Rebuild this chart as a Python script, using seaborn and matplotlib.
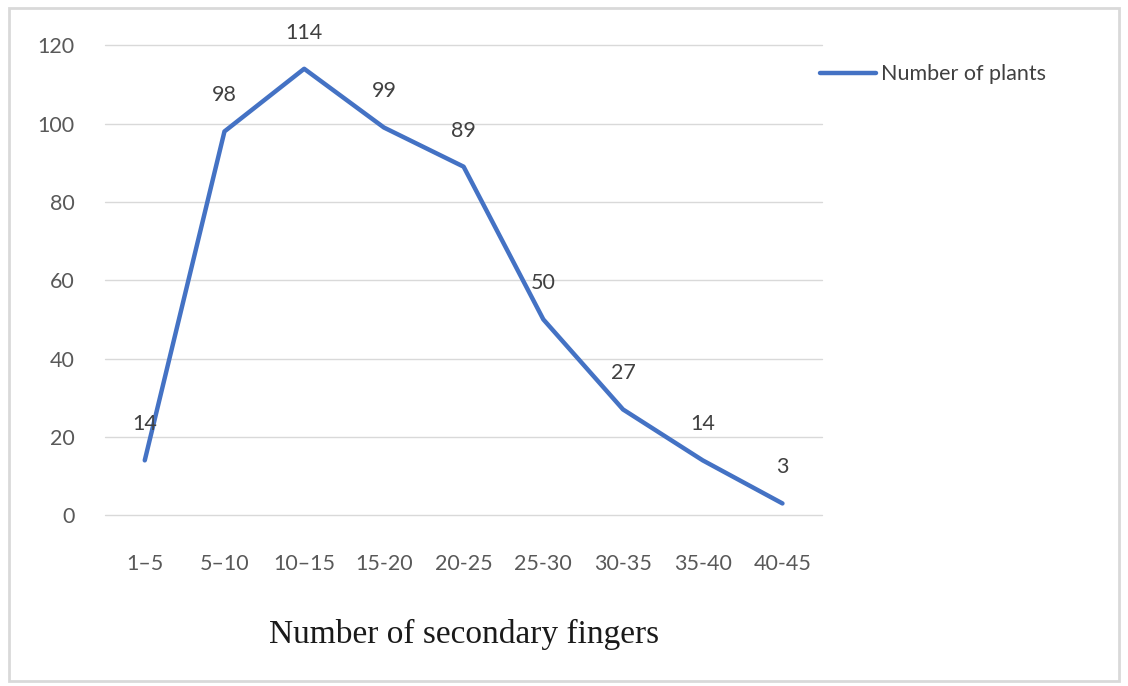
import pandas as pd
import seaborn as sns
import matplotlib.pyplot as plt
from matplotlib.patches import Rectangle

# Data
fingers = ['1\u20135', '5\u201310', '10\u201315', '15-20', '20-25', '25-30', '30-35', '35-40', '40-45']
plants = [14, 98, 114, 99, 89, 50, 27, 14, 3]

df = pd.DataFrame({'Fingers': fingers, 'Plants': plants})
df['Series'] = 'Number of plants'

sns.set_style('white')
plt.rcParams['font.family'] = ['Lato', 'DejaVu Sans']

fig = plt.figure(figsize=(11.28, 6.86), dpi=100)
ax = fig.add_axes([0.093, 0.249, 0.636, 0.685])

sns.lineplot(data=df, x='Fingers', y='Plants', hue='Series', palette=['#4472C4'],
             linewidth=3.2, sort=False, ax=ax)

ax.set_ylim(0, 120)
ax.set_xlim(-0.5, len(fingers) - 0.5)
ax.set_yticks(range(0, 121, 20))
ax.yaxis.grid(True, color='#d9d9d9', linewidth=1)
for gl in ax.get_ygridlines():
    gl.set_clip_on(False)
ax.set_axisbelow(True)
sns.despine(ax=ax, left=True, bottom=True)
ax.tick_params(axis='both', length=0, labelsize=15.5, colors='#595959')
ax.tick_params(axis='y', pad=22)
ax.tick_params(axis='x', pad=28)

# value labels above each point
for i, v in enumerate(plants):
    ax.annotate(str(v), (i, v), xytext=(0, 26), textcoords='offset points',
                ha='center', va='center', fontsize=15.5, color='#404040')

ax.set_ylabel(None)
ax.set_xlabel('Number of secondary fingers', fontsize=24, family='Liberation Serif',
              color='#1a1a1a', labelpad=32)

ax.legend(handles=ax.get_legend_handles_labels()[0], labels=['Number of plants'],
          loc='center left', bbox_to_anchor=(0.71, 0.892), bbox_transform=fig.transFigure,
          frameon=False, fontsize=15.5, handlelength=2.6, handletextpad=0.2,
          labelcolor='#404040')

# light frame around the whole chart
fig.patches.append(Rectangle((0.008, 0.008), 0.984, 0.98, transform=fig.transFigure,
                             fill=False, edgecolor='#d9d9d9', linewidth=2))

fig.savefig('out.png', dpi=100)
